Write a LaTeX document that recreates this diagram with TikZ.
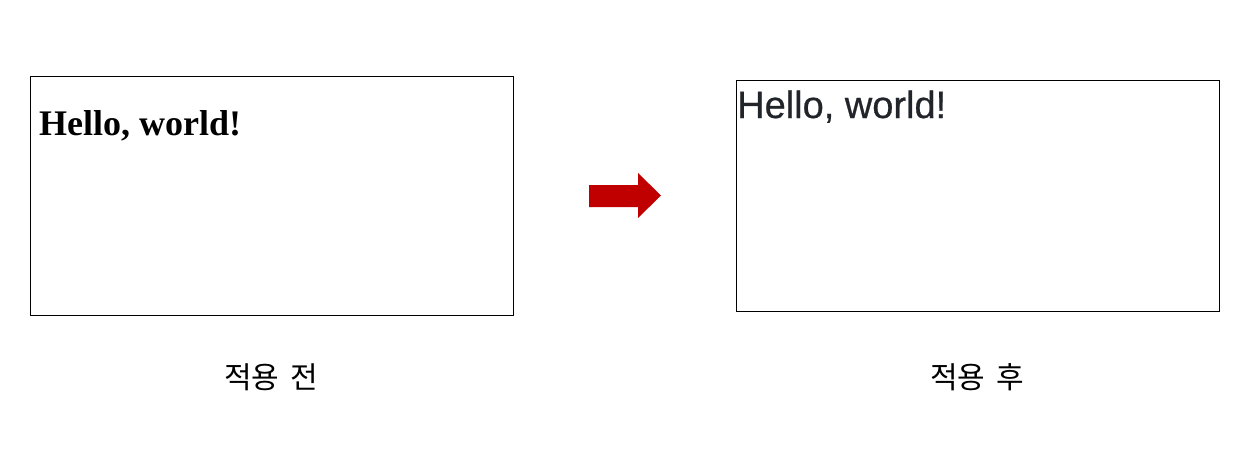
\documentclass[tikz,border=0pt]{standalone}
\usepackage{fontspec}
\setmainfont{Liberation Serif}
\newfontfamily\sansf[FakeBold=0.6]{Liberation Sans}
\newfontfamily\krfont{Noto Sans CJK KR}
\definecolor{arrowred}{HTML}{C00000}
\definecolor{txtdark}{HTML}{212529}
\begin{document}
\begin{tikzpicture}[x=1pt,y=-1pt,
  frame/.style={draw=black,line width=0.9pt,fill=white},
  krlabel/.style={font=\krfont\fontsize{30}{34}\selectfont,anchor=center,inner sep=0pt}]
\useasboundingbox (0,0) rectangle (1253,466);
\fill[white] (0,0) rectangle (1253,466);
\draw[frame] (30,76) rectangle (513,315);
\draw[frame] (736,80) rectangle (1219,311);
\node[anchor=base west,inner sep=0pt,font=\bfseries\fontsize{36}{40}\selectfont] (before) at (39,135) {Hello, world!};
\node[anchor=base west,inner sep=0pt,text=txtdark,font=\sansf\fontsize{38}{42}\selectfont] (after) at (737,118) {Hello, world!};
\fill[arrowred] (589,185) -- (638,185) -- (638,173) -- (661,195.5) -- (638,218) -- (638,207) -- (589,207) -- cycle;
\node[krlabel] (lbl1) at (271,377) {적용\hspace{11pt}전};
\node[krlabel] (lbl2) at (977,377) {적용\hspace{11pt}후};
\end{tikzpicture}
\end{document}
